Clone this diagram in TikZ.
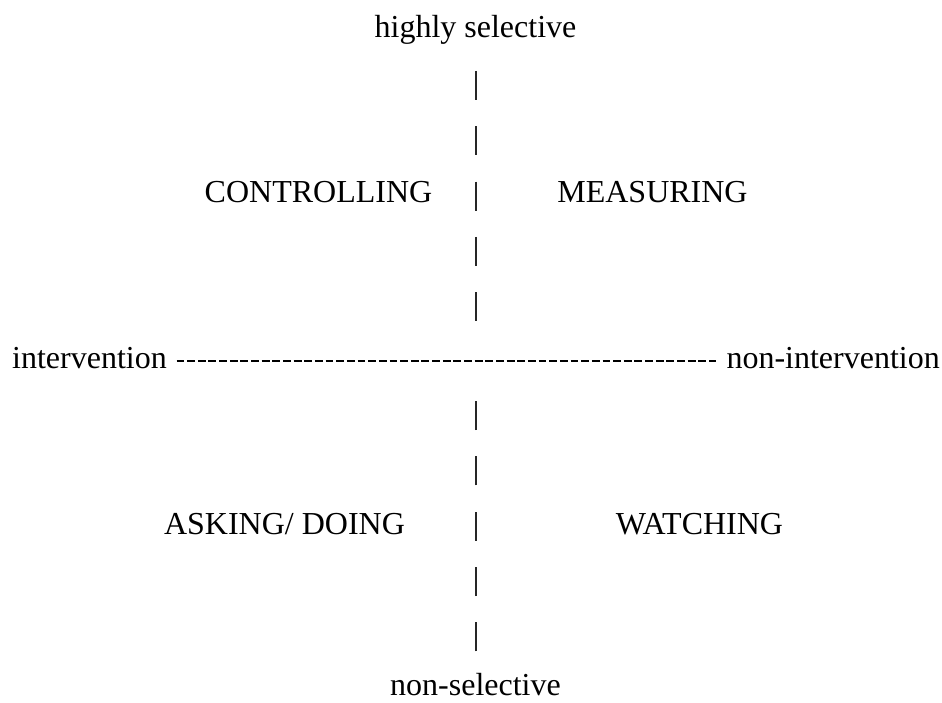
\documentclass[tikz,border=0pt]{standalone}
\usepackage{fontspec}
\setmainfont{Liberation Serif}
\begin{document}
\begin{tikzpicture}[x=1pt,y=-1pt,font=\fontsize{32}{38}\selectfont\rmfamily,
    every node/.style={text=black,inner sep=0pt},
    axisbar/.style={black!85,line width=1.4pt,dash pattern=on 29pt off 26.3pt,dash phase=29pt},
    axisdash/.style={black,line width=2.4pt,dash pattern=on 7.85pt off 2.8pt}]
    \path[use as bounding box,fill=white] (0,0) rectangle (942,702);
    % axis ends
    \node[anchor=base] (sel) at (475.5, 37.5) {highly selective};
    \node[anchor=base] (nonsel) at (475.5, 695.5) {non-selective};
    \node[anchor=base west] (int) at (12, 368.5) {intervention};
    \node[anchor=base east] (nonint) at (940, 368.5) {non-intervention};
    % quadrants
    \node[anchor=base] (cont) at (318.5, 202.6) {CONTROLLING};
    \node[anchor=base] (meas) at (652.5, 202.6) {MEASURING};
    \node[anchor=base] (ask) at (284.5, 534.4) {ASKING/ DOING};
    \node[anchor=base] (watch) at (699.5, 534.4) {WATCHING};
    \coordinate (hubN) at (476, 332);
    \coordinate (hubS) at (476, 392);
    \draw[axisbar] (sel.south -| hubN) -- (hubN);
    \draw[axisbar,dash phase=33.5pt] (nonsel.north -| hubS) -- (hubS);
    \draw[axisdash] ([xshift=9.5pt,yshift=7.3pt]int.base east) -- ([xshift=-10.5pt,yshift=7.3pt]nonint.base west);
  \end{tikzpicture}
\end{document}
